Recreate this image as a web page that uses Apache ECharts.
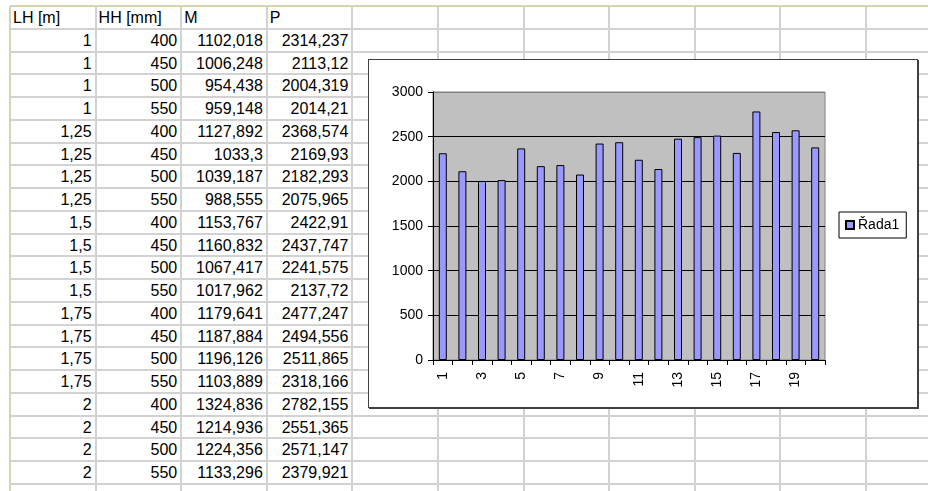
<!DOCTYPE html>
<html>
<head>
<meta charset="utf-8">
<script src="https://cdn.jsdelivr.net/npm/echarts@6/dist/echarts.min.js"></script>
<style>
    html, body { margin: 0; padding: 0; background: #fff; }
    body { width: 928px; height: 491px; position: relative; overflow: hidden; font-family: "Liberation Sans", Arial, sans-serif; }
    .gl { position: absolute; background: #d2d2d2; }
    .gl.edge { background: #d8d2b4; }
    .cell { position: absolute; font-size: 16px; line-height: 21px; color: #000; white-space: nowrap; box-sizing: border-box; }
    .cell.num { text-align: right; padding-right: 4px; }
    .cell.txt { text-align: left; padding-left: 3px; }
    #chart { position: absolute; left: 368px; top: 59px; width: 548px; height: 347px; border: 1px solid #404040; box-shadow: 1px 1px 0 #404040; background: #fff; z-index: 5; }
</style>
</head>
<body>
<div id="sheet"></div>
<div id="chart"></div>
<script>
// table data
var headers = ['LH [m]', 'HH [mm]', 'M', 'P'];
var lhValues = [1, 1, 1, 1, 1.25, 1.25, 1.25, 1.25, 1.5, 1.5, 1.5, 1.5, 1.75, 1.75, 1.75, 1.75, 2, 2, 2, 2];
var hhValues = [400, 450, 500, 550, 400, 450, 500, 550, 400, 450, 500, 550, 400, 450, 500, 550, 400, 450, 500, 550];
var mValues = [1102.018, 1006.248, 954.438, 959.148, 1127.892, 1033.3, 1039.187, 988.555, 1153.767, 1160.832,
    1067.417, 1017.962, 1179.641, 1187.884, 1196.126, 1103.889, 1324.836, 1214.936, 1224.356, 1133.296];
var pValues = [2314.237, 2113.12, 2004.319, 2014.21, 2368.574, 2169.93, 2182.293, 2075.965, 2422.91, 2437.747,
    2241.575, 2137.72, 2477.247, 2494.556, 2511.865, 2318.166, 2782.155, 2551.365, 2571.147, 2379.921];

// chart data
var categories = ['1', '2', '3', '4', '5', '6', '7', '8', '9', '10', '11', '12', '13', '14', '15', '16', '17', '18', '19', '20'];
var seriesName = 'Řada1';
var yTicks = [0, 500, 1000, 1500, 2000, 2500, 3000];

(function() {

    // sheet geometry
    var colX = 10, colW = 85.6, cols = 11;
    var rowY = 6, rowH = 22.76, rows = 22;

    var sheet = document.getElementById('sheet');

    var fmt = function(v) { return String(v).replace('.', ','); };

    var line = function(x, y, w, h, edge) {
        var d = document.createElement('div');
        d.className = 'gl' + (edge ? ' edge' : '');
        d.style.left = x + 'px'; d.style.top = y + 'px';
        d.style.width = w + 'px'; d.style.height = h + 'px';
        sheet.appendChild(d);
    };

    var cell = function(c, r, text, num) {
        var d = document.createElement('div');
        d.className = 'cell ' + (num ? 'num' : 'txt');
        d.style.left = (colX + c * colW) + 'px';
        d.style.top = (rowY + r * rowH + 1) + 'px';
        d.style.width = colW + 'px';
        d.textContent = text;
        sheet.appendChild(d);
    };

    // grid lines
    var i;
    for (i = 0; i <= cols; i++) line(colX + i * colW - 1, rowY, 2, 491, i === 0);
    for (i = 0; i <= rows; i++) line(colX, rowY + i * rowH - 1, 928, 2, i === 0);

    // cells
    for (i = 0; i < headers.length; i++) cell(i, 0, headers[i], false);
    for (i = 0; i < pValues.length; i++) {
        cell(0, i + 1, fmt(lhValues[i]), true);
        cell(1, i + 1, fmt(hhValues[i]), true);
        cell(2, i + 1, fmt(mValues[i]), true);
        cell(3, i + 1, fmt(pValues[i]), true);
    }

    // chart
    var chart = echarts.init(document.getElementById('chart'));
    var font = { fontFamily: 'Liberation Sans', fontSize: 14, color: '#000' };

    chart.setOption({
        animation: false,
        backgroundColor: '#fff',
        grid: {
            left: 64, top: 32, width: 392, height: 268,
            show: true, backgroundColor: '#c0c0c0', borderColor: '#808080', borderWidth: 1
        },
        legend: {
            left: 470, top: 152,
            padding: [6, 7, 6, 6],
            borderColor: '#000', borderWidth: 1, backgroundColor: '#fff',
            itemWidth: 8, itemHeight: 8, itemGap: 0,
            icon: 'rect',
            textStyle: { fontFamily: 'Liberation Sans', fontSize: 14, color: '#000', padding: [0, 0, 0, -1] },
            data: [seriesName]
        },
        xAxis: {
            type: 'category',
            data: categories,
            axisLine: { lineStyle: { color: '#000', width: 1 } },
            axisTick: { show: true, interval: 0, length: 5, alignWithLabel: false, lineStyle: { color: '#000' } },
            axisLabel: Object.assign({ interval: 1, rotate: 90, margin: 12 }, font),
            splitLine: { show: false }
        },
        yAxis: {
            type: 'value',
            min: yTicks[0], max: yTicks[yTicks.length - 1], interval: yTicks[1] - yTicks[0],
            axisLine: { show: true, lineStyle: { color: '#000', width: 1 } },
            axisTick: { show: true, length: 5, lineStyle: { color: '#000' } },
            axisLabel: Object.assign({ margin: 10, formatter: function(v) { return String(v); } }, font),
            splitLine: { show: true, lineStyle: { color: ['#000', '#000', '#000', '#000', '#000', '#000', '#808080'], width: 1 } }
        },
        series: [{
            name: seriesName,
            type: 'bar',
            data: pValues,
            barWidth: 8,
            itemStyle: { color: '#9999ff', borderColor: '#000', borderWidth: 1 }
        }]
    });

}());
</script>
</body>
</html>
